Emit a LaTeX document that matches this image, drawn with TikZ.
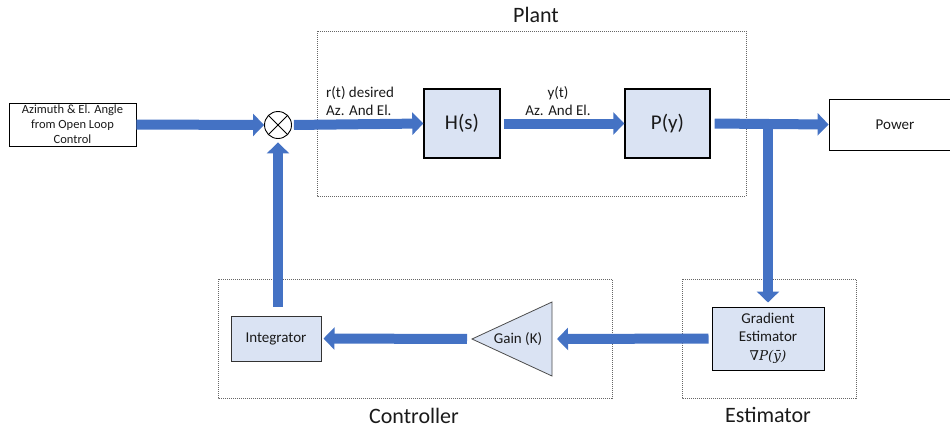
\documentclass[tikz,border=0pt]{standalone}
\usepackage{fontspec}
\setmainfont{Carlito}
\newfontfamily\formulafont{DejaVu Serif}
\usetikzlibrary{arrows.meta}
\definecolor{flowblue}{HTML}{4472C4}
\definecolor{boxfill}{HTML}{DAE3F3}
\definecolor{txt}{HTML}{1A1A1A}
\tikzset{
  flow/.style={line width=10pt, draw=flowblue, -{Triangle[length=11pt,width=22pt]}},
  blockbox/.style={draw=black, line width=1.4pt, fill=boxfill, inner sep=0pt, align=center, text=txt},
  plainbox/.style={draw=black, line width=0.8pt, fill=white, inner sep=0pt, align=center, text=txt},
  groupbox/.style={draw=black!60, line width=0.6pt, dash pattern=on 1pt off 1pt},
  grouplabel/.style={font=\fontsize{22}{26}\selectfont, text=txt, anchor=base},
  bodytext/.style={font=\fontsize{15}{18}\selectfont, text=txt},
  bigtext/.style={font=\fontsize{21}{24}\selectfont},
}
\begin{document}
\begin{tikzpicture}[x=1pt,y=-1pt]
\useasboundingbox (0,0) rectangle (950,432);

% group boxes
\draw[groupbox] (317,31) rectangle (746,196);
\draw[groupbox] (218,279) rectangle (612,398);
\draw[groupbox] (682,279) rectangle (856,398);
\node[grouplabel] (plantlbl) at (536,22) {Plant};
\node[grouplabel] (ctrllbl) at (414,423) {Controller};
\node[grouplabel] (estlbl) at (768,422) {Estimator};

% blocks
\node[plainbox, minimum width=127pt, minimum height=43pt,
      font=\fontsize{12.5}{15}\selectfont] (input) at (72.5,124.5)
      {Azimuth \& El. Angle\\from Open Loop\\Control};
\node[draw=black, line width=0.9pt, circle, minimum size=27pt, inner sep=0pt] (sum) at (278,125) {};
\draw[line width=0.9pt] (sum.north east) -- (sum.south west);
\draw[line width=0.9pt] (sum.north west) -- (sum.south east);

\node[blockbox, bigtext, minimum width=76pt, minimum height=69pt] (H) at (462,123.5) {H(s)};
\node[blockbox, bigtext, minimum width=85pt, minimum height=69pt] (P) at (667.5,123.5) {P(y)};
\node[plainbox, bodytext, minimum width=132pt, minimum height=51pt] (power) at (895,124.5) {Power};

\node[blockbox, bodytext, line width=1pt, minimum width=112pt, minimum height=63pt] (grad) at (768,338.5)
      {Gradient\\Estimator\\[1pt]{\formulafont\fontsize{13.5}{16}\selectfont ∇\itshape P(ȳ)}};

\coordinate (gaintip) at (472,339);
\coordinate (gainR) at (552,339);
\draw[draw=black!70, line width=0.8pt, fill=boxfill] (gaintip) -- (552,302) -- (552,376) -- cycle;
\node[bodytext] (gain) at (518,339) {Gain (K)};

\node[blockbox, bodytext, line width=1pt, draw=black!80, minimum width=90pt, minimum height=45pt] (integ) at (276,338.5) {Integrator};

% labels
\node[bodytext, align=left, anchor=south west, inner sep=0pt] (rlbl) at (326,116) {r(t) desired\\Az. And El.};
\node[bodytext, align=center, anchor=south, inner sep=0pt] (ylbl) at (558,116) {y(t)\\Az. And El.};

% connectors
\draw[flow] (input.east) -- (sum.west);
\draw[flow, shorten <=2pt] (sum.east) -- (H.west);
\draw[flow, shorten <=3pt] (H.east) -- (P.west);
\draw[flow, shorten <=4pt] (P.east) -- (power.west);
\coordinate (branch) at (768,124);
\draw[flow, shorten >=4pt] (branch) -- (grad.north);
\draw[flow, shorten <=3pt, shorten >=5pt] (grad.west) -- (gainR);
\draw[flow, shorten <=5pt, shorten >=2pt] (gaintip) -- (integ.east);
\draw[flow, shorten <=9pt, shorten >=3.5pt] (sum.south |- integ.north) -- (sum.south);
\end{tikzpicture}
\end{document}
